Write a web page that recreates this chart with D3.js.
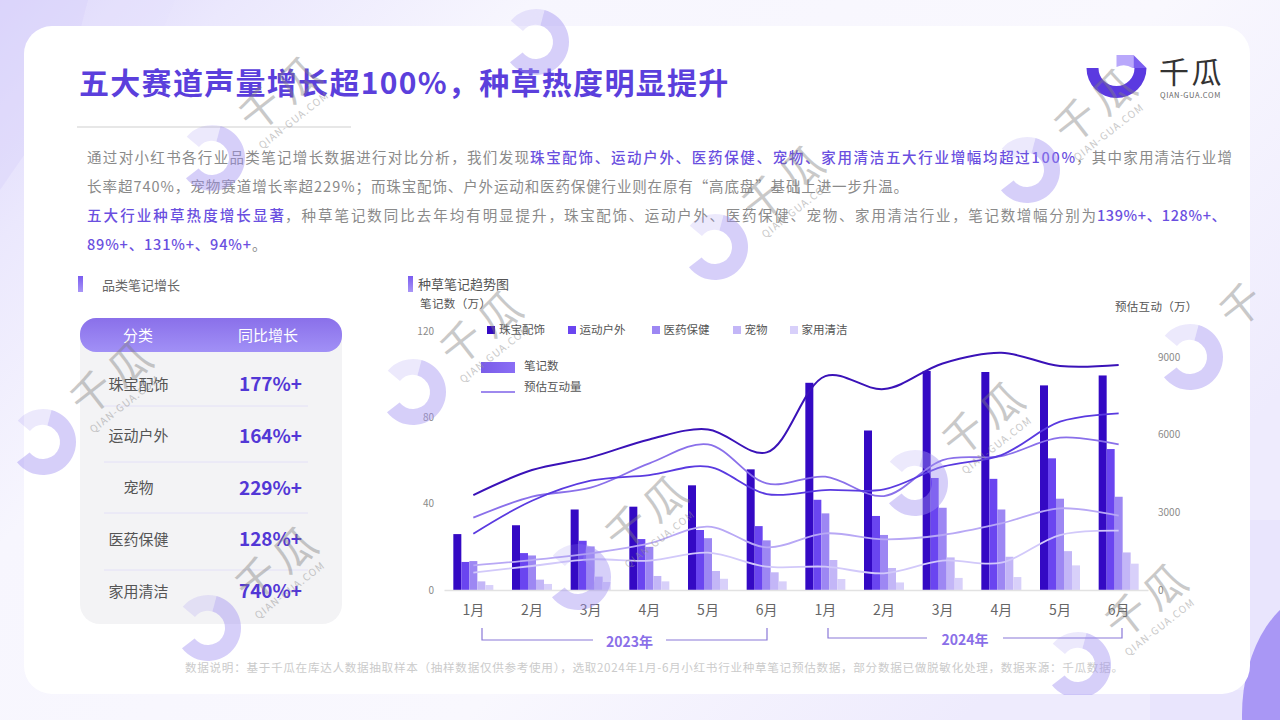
<!DOCTYPE html>
<html lang="zh"><head><meta charset="utf-8">
<script src="https://cdnjs.cloudflare.com/ajax/libs/d3/7.8.5/d3.min.js"></script>
<style>html,body{margin:0;padding:0;background:#fff;overflow:hidden}svg{display:block}text{font-family:"Noto Sans CJK SC","Noto Sans",sans-serif}</style>
</head><body><svg id="c" width="1280" height="720"></svg>
<script>
const months=["1月","2月","3月","4月","5月","6月","1月","2月","3月","4月","5月","6月"];
const periods=["23-1","23-2","23-3","23-4","23-5","23-6","24-1","24-2","24-3","24-4","24-5","24-6"];
const seriesNames=["珠宝配饰","运动户外","医药保健","宠物","家用清洁"];
const notes0=[25.9,30,37.3,38.6,48.5,55.9,96,73.9,101.5,101,94.8,99.4];
const notes1=[13,17.1,22.8,23.6,27.8,29.6,41.8,34.3,51.9,51.5,61,65.3];
const notes2=[13.4,16,20.2,20,24,23,35.5,25.5,38.1,37.3,42.3,43.2];
const notes3=[4,4.8,6.2,6.5,8.8,8.2,13.9,10.2,15.1,15.4,18,17.4];
const notes4=[2.3,2.8,3.7,4,5.2,4,5.1,3.5,5.6,6,11.4,12.2];
const inter0=[3668,4633,5122,5817,6203,5315,8262,7760,8750,9163,8650,8687];
const inter1=[2175,3449,4221,4440,4762,3707,3861,3887,4762,5212,6500,6821];
const inter2=[2793,3604,3951,4891,5624,4118,4376,3629,5019,5174,5882,5624];
const inter3=[952,1158,1416,1802,2445,1647,2188,1956,2124,2574,3153,2870];
const inter4=[669,927,1184,1133,1441,901,901,643,1133,1055,2124,2291];
const leftTicks=[0,40,80,120];
const rightTicks=[0,3000,6000,9000];
const tableCats=["珠宝配饰","运动户外","宠物","医药保健","家用清洁"];
const tableVals=["177%+","164%+","229%+","128%+","740%+"];
const barColors=["#3409c4","#6a45f0","#9d87f3","#c3b6f7","#d8d0fa"];
const lineColors=["#3a12b8","#5a3ae0","#8a70ea","#b8a8f5","#d2c9fa"];
const ringCenters=[[536,42],[212,158],[1027,170],[715,247],[413,392],[43,442],[1190,357],[578,577],[915,483],[208,628],[1078,665]];

const svg=d3.select("#c");
const defs=svg.append("defs");
function grad(id,x2,y2,stops){const g=defs.append("linearGradient").attr("id",id).attr("x1",0).attr("y1",0).attr("x2",x2).attr("y2",y2);
 stops.forEach(s=>g.append("stop").attr("offset",s[0]).attr("stop-color",s[1]));}
grad("bgG",1,0.55,[[0,"#dcd6fb"],[.14,"#ebe8fd"],[.32,"#f7f6fe"],[.7,"#f9f8fe"],[1,"#eeebfd"]]);
grad("headG",0,1,[[0,"#8a70ea"],[1,"#a190f6"]]);
grad("tickG",0,1,[[0,"#7a5cf0"],[1,"#a996f6"]]);
grad("legG",1,0,[[0,"#7a5ce8"],[1,"#8a6ef5"]]);
defs.append("clipPath").attr("id","wmClip").append("rect").attr("width",1280).attr("height",695);

// page background
svg.append("rect").attr("width",1280).attr("height",720).attr("fill","url(#bgG)");
svg.append("path").attr("d","M0,0H88L62,100L0,190Z").attr("fill","#d9d3fb").attr("opacity",.45);
svg.append("path").attr("d","M88,0H175L150,60L62,100Z").attr("fill","#e6e2fc").attr("opacity",.4);
svg.append("rect").attr("x",1150).attr("y",690).attr("width",130).attr("height",30).attr("fill","#e9e5fd");
svg.append("rect").attr("x",1248).attr("y",520).attr("width",32).attr("height",200).attr("fill","#e9e5fd");
svg.append("ellipse").attr("cx",1325).attr("cy",715).attr("rx",83).attr("ry",125).attr("fill","#a997f5");
// card
svg.append("rect").attr("x",24).attr("y",26).attr("width",1226).attr("height",668).attr("rx",28).attr("fill","#fff");

// title
svg.append("text").attr("x",79).attr("y",94).attr("font-size",30).attr("font-weight",700).attr("letter-spacing",1.3).attr("fill","#5b3fdc").text("五大赛道声量增长超100%，种草热度明显提升");
svg.append("line").attr("x1",77).attr("x2",351).attr("y1",127).attr("y2",127).attr("stroke","#cfcfcf");

// logo
const lg=svg.append("g").attr("transform","translate(1116.5,68)");
const arcGen=d3.arc();
lg.append("path").attr("d",arcGen({innerRadius:18,outerRadius:30,startAngle:Math.PI/2,endAngle:Math.PI*1.5})).attr("fill","#5b3ae0");
lg.append("path").attr("d","M0,-13H17V0H16A16,16 0 0 0 0,-1Z").attr("fill","#b9a8fb");
lg.append("path").attr("d","M17,-13L30,0H17Z").attr("fill","#7b5ff0");
svg.append("text").attr("x",1159).attr("y",83).attr("font-size",30).attr("letter-spacing",2.5).attr("fill","#333").text("千瓜");
svg.append("text").attr("x",1160).attr("y",98).attr("font-size",7.5).attr("letter-spacing",.6).attr("fill","#666").text("QIAN-GUA.COM");

// body text: [baseline, text, colour, x start, x end]
const G="#8a8a8a",P="#6a4fe0";
const bodyRuns=[
 [163,"通过对小红书各行业品类笔记增长数据进行对比分析，我们发现",G,87,529],
 [163,"珠宝配饰、运动户外、医药保健、宠物、家用清洁五大行业增幅均超过100%",P,530,1075],
 [163,"，其中家用清洁行业增",G,1076,1232],
 [192,"长率超740%，宠物赛道增长率超229%；",G,87,370],
 [192,"而珠宝配饰、户外运动和医药保健行业则在原有“高底盘”基础上进一步升温。",G,371,908],
 [221,"五大行业种草热度增长显著",P,87,284],
 [221,"，种草笔记数同比去年均有明显提升，",G,285,563],
 [221,"珠宝配饰、运动户外、医药保健、宠物、家用清洁行业，笔记数增幅分别为",G,564,1096],
 [221,"139%+、128%+、",P,1097,1226],
 [250,"89%+、131%+、94%+",P,87,251],[250,"。",G,252,0]];
svg.selectAll(".body").data(bodyRuns).join("text").attr("class","body").attr("x",d=>d[3]).attr("y",d=>d[0])
 .attr("font-size",14.5).attr("fill",d=>d[2]).attr("font-weight",d=>d[2]===P?500:400)
 .attr("textLength",d=>d[4]?d[4]-d[3]:null).attr("lengthAdjust","spacing").text(d=>d[1]);

// section heads
svg.append("rect").attr("x",78).attr("y",276).attr("width",5).attr("height",16).attr("fill","url(#tickG)");
svg.append("text").attr("x",102).attr("y",290).attr("font-size",13).attr("fill","#666").text("品类笔记增长");
svg.append("rect").attr("x",408).attr("y",276).attr("width",5).attr("height",16).attr("fill","url(#tickG)");
svg.append("text").attr("x",418).attr("y",288.5).attr("font-size",13).attr("fill","#555").text("种草笔记趋势图");

// table
svg.append("rect").attr("x",80).attr("y",318).attr("width",262).attr("height",306).attr("rx",20).attr("fill","#f3f3f5");
svg.append("rect").attr("x",80).attr("y",318).attr("width",262).attr("height",34).attr("rx",16).attr("fill","url(#headG)");
svg.append("text").attr("x",138).attr("y",341).attr("text-anchor","middle").attr("font-size",15).attr("fill","#fff").text("分类");
svg.append("text").attr("x",268).attr("y",341).attr("text-anchor","middle").attr("font-size",15).attr("fill","#fff").text("同比增长");
const rowY=d3.scalePoint().domain(tableCats).range([384,591]);
svg.selectAll(".tc").data(tableCats).join("text").attr("x",138.5).attr("y",d=>rowY(d)+5.5).attr("text-anchor","middle").attr("font-size",15).attr("fill","#555").text(d=>d);
svg.selectAll(".tv").data(tableVals).join("text").attr("x",270.5).attr("y",(d,i)=>rowY(tableCats[i])+7).attr("text-anchor","middle").attr("font-size",19).attr("font-weight",700).attr("fill","#5237d6").text(d=>d);
svg.selectAll(".td").data([406,462,513,570]).join("line").attr("x1",104).attr("x2",308).attr("y1",d=>d).attr("y2",d=>d).attr("stroke","#e3e0f7");

// chart
const x=d3.scaleBand().domain(periods).range([444,1148]);
const inner=d3.scaleBand().domain(seriesNames).range([0,40]);
const yL=d3.scaleLinear().domain([0,120]).range([590,331]);
const yR=d3.scaleLinear().domain([0,9000]).range([590,357]);
const cx=p=>x(p)+x.bandwidth()/2;
const notes=[notes0,notes1,notes2,notes3,notes4];
const inter=[inter0,inter1,inter2,inter3,inter4];

notes.forEach((vals,s)=>{
 svg.append("g").selectAll("rect").data(vals).join("rect")
  .attr("x",(d,i)=>cx(periods[i])-20+inner(seriesNames[s]))
  .attr("width",inner.bandwidth()).attr("y",d=>yL(d)).attr("height",d=>590-yL(d)).attr("fill",barColors[s]);
});
const axB=svg.append("g").attr("transform","translate(0,590)").call(d3.axisBottom(x).tickSize(0).tickPadding(15).tickFormat((d,i)=>months[i]));
axB.select(".domain").attr("stroke","#e2e2e2").attr("stroke-width",1.5);
axB.selectAll("text").attr("font-size",14).attr("fill","#666");
const axL=svg.append("g").attr("transform","translate(434,0)").call(d3.axisLeft(yL).tickValues(leftTicks).tickSize(0).tickPadding(0));
axL.select(".domain").remove();axL.selectAll("text").attr("font-size",10).attr("fill","#8a8a8a");
const axR=svg.append("g").attr("transform","translate(1158,0)").call(d3.axisRight(yR).tickValues(rightTicks).tickFormat(d3.format("d")).tickSize(0).tickPadding(0));
axR.select(".domain").remove();axR.selectAll("text").attr("font-size",10).attr("fill","#8a8a8a");

const lineGen=d3.line().x((d,i)=>cx(periods[i])).y(d=>yR(d)).curve(d3.curveCatmullRom.alpha(0.5));
inter.slice().reverse().forEach((vals,k)=>{const s=4-k;
 svg.append("path").attr("d",lineGen(vals)).attr("fill","none").attr("stroke",lineColors[s]).attr("stroke-width",s===0?2:1.8);});

svg.append("text").attr("x",420).attr("y",308).attr("font-size",11.5).attr("letter-spacing",.4).attr("fill","#555").text("笔记数（万）");
svg.append("text").attr("x",1115).attr("y",311).attr("font-size",11.5).attr("letter-spacing",.3).attr("fill","#555").text("预估互动（万）");

// legends
const legX=[487,568,652,733,790];
seriesNames.forEach((n,i)=>{
 svg.append("rect").attr("x",legX[i]).attr("y",326).attr("width",8).attr("height",8).attr("fill",barColors[i]);
 svg.append("text").attr("x",legX[i]+(i===0?12:11.5)).attr("y",334).attr("font-size",11.5).attr("fill","#555").text(n);
});
svg.append("rect").attr("x",481).attr("y",362).attr("width",34).attr("height",11).attr("fill","url(#legG)");
svg.append("text").attr("x",524).attr("y",370).attr("font-size",11.5).attr("fill","#555").text("笔记数");
svg.append("line").attr("x1",481).attr("x2",515).attr("y1",392).attr("y2",392).attr("stroke","#7e62e8").attr("stroke-width",1.5);
svg.append("text").attr("x",524).attr("y",391).attr("font-size",11.5).attr("fill","#555").text("预估互动量");

// year brackets
function bracket(a,b,ytop,ybot,g1,g2,label){
 svg.append("path").attr("d",`M${a},${ytop}V${ybot}H${g1}M${g2},${ybot}H${b}V${ytop}`).attr("fill","none").attr("stroke","#8a78d8").attr("stroke-width",1.2);
 svg.append("text").attr("x",(g1+g2)/2).attr("y",ybot+7).attr("text-anchor","middle").attr("font-size",14).attr("font-weight",700).attr("fill","#8a6fe8").text(label);
}
bracket(482,767,628,640,593,666,"2023年");
bracket(828,1122,628,638,927,1003,"2024年");

// footer
svg.append("text").attr("x",185).attr("y",672).attr("font-size",11.6).attr("fill","#cbcbcb").attr("textLength",938).text("数据说明：基于千瓜在库达人数据抽取样本（抽样数据仅供参考使用），选取2024年1月-6月小红书行业种草笔记预估数据，部分数据已做脱敏化处理，数据来源：千瓜数据。");

// watermarks
const wm=svg.append("g").attr("clip-path","url(#wmClip)");
const rad=d=>d*Math.PI/180;
ringCenters.forEach(([a,b],i)=>{
 const g=wm.append("g").attr("transform",`translate(${a},${b})`);
 g.append("path").attr("d",arcGen({innerRadius:17,outerRadius:33,startAngle:rad(15),endAngle:rad(232)})).attr("fill","#a08ff0").attr("opacity",.43);
 g.append("path").attr("d",arcGen({innerRadius:17,outerRadius:33,startAngle:rad(-50),endAngle:rad(15)})).attr("fill","#a08ff0").attr("opacity",.2);
 if(i===0) return;
 const t=wm.append("g").attr("transform",`translate(${a+70},${b-65})`);
 if(a+70>1250){
  t.append("text").attr("transform","translate(-19,14) rotate(-38)").attr("text-anchor","middle").attr("y",15).attr("font-size",42).attr("fill","#808080").attr("opacity",.42).text("千");
  return;
 }
 t.append("text").attr("transform","rotate(-38)").attr("text-anchor","middle").attr("y",15).attr("font-size",42).attr("letter-spacing",6).attr("fill","#808080").attr("opacity",.42).text("千瓜");
 t.append("text").attr("transform","translate(14,30) rotate(-38)").attr("text-anchor","middle").attr("font-size",10).attr("letter-spacing",1.2).attr("fill","#909090").attr("opacity",.5).text("QIAN-GUA.COM");
});
</script></body></html>
